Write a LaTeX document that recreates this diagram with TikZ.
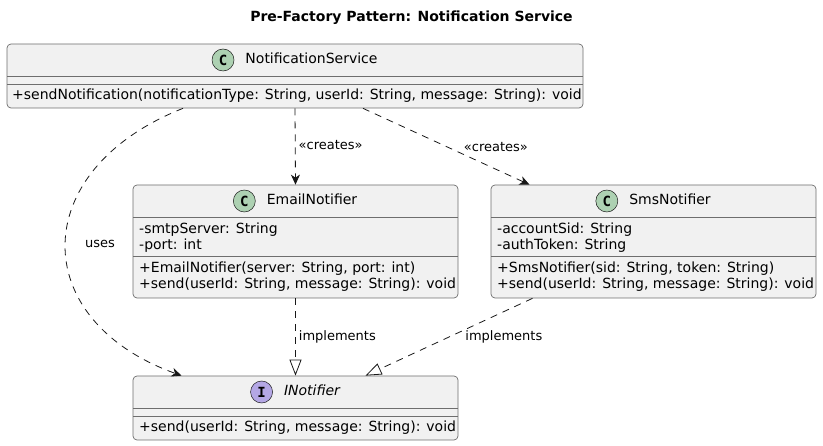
\documentclass[tikz,border=0pt]{standalone}
\usepackage{fontspec}
\setmainfont{DejaVu Sans}
\newfontfamily\iconfont{DejaVu Sans Mono}
\usepackage{xcolor}
\usetikzlibrary{arrows.meta}
\usetikzlibrary{positioning}

\definecolor{classfill}{HTML}{F1F1F1}
\definecolor{classborder}{HTML}{6E6E6E}
\definecolor{classline}{HTML}{181818}
\definecolor{classicon}{HTML}{ADD1B2}
\definecolor{ifaceicon}{HTML}{B4A7E5}

\tikzset{
  classbox/.style={draw=classborder, fill=classfill, line width=0.7pt, rounded corners=4pt, inner sep=0pt},
  sepline/.style={draw=classborder, line width=0.7pt},
  icon/.style={circle, draw=classline, line width=0.5pt, minimum size=22pt, inner sep=0pt,
    font=\fontsize{14pt}{16pt}\selectfont\iconfont\bfseries},
  cname/.style={inner sep=0pt, text height=10pt, text depth=3pt, font=\fontsize{14pt}{16pt}\selectfont},
  member/.style={anchor=west, inner sep=0pt, text height=10pt, text depth=3pt, font=\fontsize{14pt}{16pt}\selectfont},
  rel/.style={draw=classline, line width=0.8pt, dash pattern=on 7pt off 6pt},
  lbl/.style={inner sep=0pt, text height=9.5pt, text depth=3pt, font=\fontsize{13pt}{15pt}\selectfont},
  dep/.style={rel, -{Stealth[length=10pt, width=9pt, inset=3pt]}},
  impl/.style={rel, -{Triangle[open, length=16pt, width=12pt]}}
}

\begin{document}
\begin{tikzpicture}[x=1pt, y=-1pt]
    \useasboundingbox (0,0) rectangle (823,446);
    \node[font=\fontsize{14pt}{16pt}\selectfont\bfseries] (title) at (411.5,18) {Pre-Factory Pattern: Notification Service};

    \node[classbox, minimum width=576pt, minimum height=64pt] (svc) at (295,76) {};
    \draw[sepline] (7,76) -- (583,76);
    \draw[sepline] (7,84) -- (583,84);
    \node[cname] (svcname) at (311.5,60) {NotificationService};
    \node[icon, fill=classicon, left=11pt of svcname] (svcicon) {C};
    \node[member] (svcsend) at (12,96) {+sendNotification(notificationType: String, userId: String, message: String): void};

    \node[classbox, minimum width=325pt, minimum height=113pt] (email) at (295.5,241.5) {};
    \draw[sepline] (133,217) -- (458,217);
    \draw[sepline] (133,256) -- (458,256);
    \node[cname] (emailname) at (312,201) {EmailNotifier};
    \node[icon, fill=classicon, left=11pt of emailname] (emailicon) {C};
    \node[member] (emailsmtp) at (139,230.5) {-smtpServer: String};
    \node[member] (emailport) at (139,246) {-port: int};
    \node[member] (emailctor) at (139,269.5) {+EmailNotifier(server: String, port: int)};
    \node[member] (emailsend) at (139,285.5) {+send(userId: String, message: String): void};

    \node[classbox, minimum width=325pt, minimum height=113pt] (sms) at (653.5,241.5) {};
    \draw[sepline] (491,217) -- (816,217);
    \draw[sepline] (491,256) -- (816,256);
    \node[cname] (smsname) at (670,201) {SmsNotifier};
    \node[icon, fill=classicon, left=11pt of smsname] (smsicon) {C};
    \node[member] (smssid) at (497,230.5) {-accountSid: String};
    \node[member] (smstoken) at (497,246) {-authToken: String};
    \node[member] (smsctor) at (497,269.5) {+SmsNotifier(sid: String, token: String)};
    \node[member] (smssend) at (497,285.5) {+send(userId: String, message: String): void};

    \node[classbox, minimum width=325pt, minimum height=64pt] (iface) at (295.5,408) {};
    \draw[sepline] (133,408) -- (458,408);
    \draw[sepline] (133,416) -- (458,416);
    \node[cname, font=\fontsize{14pt}{16pt}\selectfont\itshape] (ifacename) at (312,392) {INotifier};
    \node[icon, fill=ifaceicon, left=11pt of ifacename] (ifaceicon) {I};
    \node[member] (ifacesend) at (139,428) {+send(userId: String, message: String): void};

    \draw[dep] (svc.south) -- node[lbl, right=3pt] {«creates»} (email.north);
    \draw[dep] ([xshift=68pt]svc.south) -- node[lbl, pos=0.52, right=14pt] {«creates»} ([xshift=-124pt]sms.north);
    \draw[dep] ([xshift=-112pt]svc.south) .. controls (27,170) and (27,320) .. node[lbl, right=19pt] {uses} ([xshift=-114pt]iface.north);
    \draw[impl] (email.south) -- node[lbl, right=3pt] {implements} (iface.north);
    \draw[impl] ([xshift=-121pt]sms.south) -- node[lbl, right=16pt] {implements} ([xshift=70pt]iface.north);
\end{tikzpicture}
\end{document}
